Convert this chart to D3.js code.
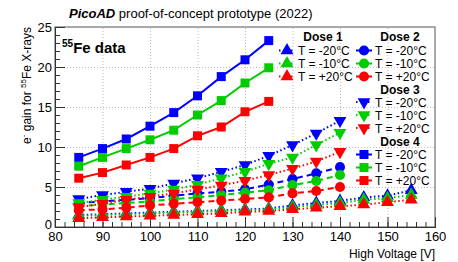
<!DOCTYPE html>
<html>
<head>
<meta charset="utf-8">
<script src="https://cdn.jsdelivr.net/npm/d3@7"></script>
<style>
  body { margin: 0; background: #fff; }
  svg text { font-family: "Liberation Sans", Arial, sans-serif; }
</style>
</head>
<body>
<div id="chart-area"></div>
<script>
// high voltage points
const hvLong = [85, 90, 95, 100, 105, 110, 115, 120, 125, 130, 135, 140, 145, 150, 155]
const hvMid = [85, 90, 95, 100, 105, 110, 115, 120, 125, 130, 135, 140]
const hvShort = [85, 90, 95, 100, 105, 110, 115, 120, 125]

// Dose 1 (triangles up, dotted)
const dose1Minus20 = [1.5, 1.6, 1.7, 1.8, 1.9, 2.0, 2.1, 2.2, 2.3, 2.7, 3.0, 3.25, 3.7, 3.9, 4.6]
const dose1Minus10 = [1.4, 1.5, 1.6, 1.7, 1.8, 1.9, 2.0, 2.1, 2.2, 2.5, 2.75, 3.0, 3.4, 3.6, 4.0]
const dose1Plus20 = [1.1, 1.2, 1.3, 1.4, 1.5, 1.6, 1.7, 1.9, 2.0, 2.2, 2.4, 2.6, 2.8, 3.1, 3.4]
// Dose 2 (circles, dashed)
const dose2Minus20 = [3.0, 3.2, 3.4, 3.6, 3.9, 4.2, 4.4, 4.7, 5.3, 6.0, 6.7, 7.5]
const dose2Minus10 = [2.6, 2.8, 3.0, 3.2, 3.5, 3.7, 4.0, 4.3, 4.6, 5.25, 5.75, 6.5]
const dose2Plus20 = [2.1, 2.2, 2.4, 2.7, 2.9, 3.1, 3.3, 3.5, 3.7, 4.2, 4.5, 5.0]
// Dose 3 (triangles down, dotted)
const dose3Minus20 = [3.5, 4.0, 4.4, 4.8, 5.45, 6.1, 6.9, 7.75, 8.9, 10.25, 11.7, 13.3]
const dose3Minus10 = [3.0, 3.4, 3.8, 4.2, 4.7, 5.3, 6.1, 6.9, 7.9, 8.7, 10.25, 11.8]
const dose3Plus20 = [2.5, 2.9, 3.4, 3.8, 4.2, 4.7, 5.2, 5.8, 6.5, 7.3, 8.2, 9.4]
// Dose 4 (squares, solid)
const dose4Minus20 = [8.7, 9.8, 11.0, 12.6, 14.3, 16.4, 18.8, 20.9, 23.3]
const dose4Minus10 = [7.6, 8.7, 9.8, 10.9, 12.1, 14.0, 15.8, 18.0, 19.9]
const dose4Plus20 = [6.1, 6.8, 7.75, 8.7, 9.8, 11.4, 12.5, 14.4, 15.7]

const tempLabels = ["T = -20°C", "T = -10°C", "T = +20°C"]
const doseLabels = ["Dose 1", "Dose 2", "Dose 3", "Dose 4"]
const COLORS = ["#0000ff", "#00cc00", "#ff0000"]

const WIDTH = 458
const HEIGHT = 262
const MARGIN = { LEFT: 55, RIGHT: 23, TOP: 27, BOTTOM: 35 }
const PW = WIDTH - MARGIN.LEFT - MARGIN.RIGHT
const PH = HEIGHT - MARGIN.TOP - MARGIN.BOTTOM

const svg = d3.select("#chart-area").append("svg")
  .attr("width", WIDTH)
  .attr("height", HEIGHT)

const g = svg.append("g")
  .attr("transform", `translate(${MARGIN.LEFT}, ${MARGIN.TOP})`)

const x = d3.scaleLinear().domain([80, 160]).range([0, PW])
const y = d3.scaleLinear().domain([0, 25]).range([PH, 0])

// grid
const xAxisGrid = d3.axisBottom(x).tickValues([90, 100, 110, 120, 130, 140, 150]).tickSize(-PH).tickFormat("")
const yAxisGrid = d3.axisLeft(y).tickValues([5, 10, 15, 20]).tickSize(-PW).tickFormat("")
g.append("g").attr("class", "grid")
  .attr("transform", `translate(0, ${PH})`)
  .call(xAxisGrid)
g.append("g").attr("class", "grid").call(yAxisGrid)
g.selectAll(".grid .domain").remove()
g.selectAll(".grid line")
  .attr("stroke", "#bdbdbd")
  .attr("stroke-dasharray", "1,2")

// frame
g.append("rect")
  .attr("width", PW).attr("height", PH)
  .attr("fill", "none").attr("stroke", "#555").attr("stroke-width", 1)

// axes (ticks inside like ROOT)
const xMinor = d3.axisBottom(x).ticks(40).tickSize(-5).tickFormat("")
const xMajor = d3.axisBottom(x).ticks(8).tickSize(-10).tickPadding(5)
const yMinor = d3.axisLeft(y).ticks(25).tickSize(-5).tickFormat("")
const yMajor = d3.axisLeft(y).ticks(5).tickSize(-10).tickPadding(3)

g.append("g").attr("transform", `translate(0, ${PH})`).call(xMinor)
g.append("g").attr("class", "x axis").attr("transform", `translate(0, ${PH})`).call(xMajor)
g.append("g").call(yMinor)
g.append("g").attr("class", "y axis").call(yMajor)
g.selectAll(".domain").attr("stroke", "#333")
g.selectAll(".tick line").filter(function () { return !this.closest(".grid") }).attr("stroke", "#333")
g.selectAll(".x.axis text, .y.axis text")
  .attr("font-size", 13)
  .attr("font-family", "Liberation Sans, Arial, sans-serif")
  .attr("fill", "#000")
g.selectAll(".y.axis .tick text").filter(d => d === 0).attr("dy", "0.1em")

// series
const doses = [
  { hv: hvLong, vals: [dose1Minus20, dose1Minus10, dose1Plus20], sym: d3.symbolTriangle, size: 72, rot: 0, dash: "1.5,2.5" },
  { hv: hvMid, vals: [dose2Minus20, dose2Minus10, dose2Plus20], sym: d3.symbolCircle, size: 80, rot: 0, dash: "6,4" },
  { hv: hvMid, vals: [dose3Minus20, dose3Minus10, dose3Plus20], sym: d3.symbolTriangle, size: 72, rot: 180, dash: "1.5,2.5" },
  { hv: hvShort, vals: [dose4Minus20, dose4Minus10, dose4Plus20], sym: d3.symbolSquare, size: 81, rot: 0, dash: null }
]

const line = d3.line().x(d => x(d[0])).y(d => y(d[1]))

doses.forEach(dose => {
  dose.vals.forEach((vals, i) => {
    const pts = dose.hv.map((h, j) => [h, vals[j]])
    g.append("path")
      .datum(pts)
      .attr("fill", "none")
      .attr("stroke", COLORS[i])
      .attr("stroke-width", 2)
      .attr("stroke-dasharray", dose.dash)
      .attr("d", line)
    g.selectAll(null)
      .data(pts)
      .enter().append("path")
      .attr("d", d3.symbol().type(dose.sym).size(dose.size))
      .attr("transform", d => `translate(${x(d[0])}, ${y(d[1])}) rotate(${dose.rot})`)
      .attr("fill", COLORS[i])
  })
})

// legend
const leg = svg.append("g")
function legendEntry(dose, i, mx, ty, lineHalf) {
  leg.append("line")
    .attr("x1", mx - lineHalf).attr("x2", mx + lineHalf)
    .attr("y1", ty).attr("y2", ty)
    .attr("stroke", COLORS[i]).attr("stroke-width", 2)
    .attr("stroke-dasharray", dose.dash)
  leg.append("path")
    .attr("d", d3.symbol().type(dose.sym).size(dose.size))
    .attr("transform", `translate(${mx}, ${ty}) rotate(${dose.rot})`)
    .attr("fill", COLORS[i])
  leg.append("text")
    .attr("x", mx + 11).attr("y", ty + 4.5)
    .attr("font-size", 12)
    .text(tempLabels[i])
}
function legendHeader(label, cx, cy) {
  leg.append("text")
    .attr("x", cx).attr("y", cy + 4.5)
    .attr("text-anchor", "middle")
    .attr("font-size", 12)
    .attr("font-weight", "bold")
    .text(label)
}
legendHeader(doseLabels[0], 323, 36.5)
legendHeader(doseLabels[1], 400, 36.5)
legendHeader(doseLabels[2], 400, 89)
legendHeader(doseLabels[3], 400, 141.5)
const rowsTop = [50.5, 63.5, 76.5]
const rows3 = [102, 115, 128]
const rows4 = [154.5, 167.5, 180.5]
rowsTop.forEach((ry, i) => legendEntry(doses[0], i, 287, ry, 8))
rowsTop.forEach((ry, i) => legendEntry(doses[1], i, 364, ry, 8))
rows3.forEach((ry, i) => legendEntry(doses[2], i, 364, ry, 8))
rows4.forEach((ry, i) => legendEntry(doses[3], i, 364, ry, 8))

// titles
const title = svg.append("text").attr("x", 69).attr("y", 18).attr("font-size", 13)
title.append("tspan").attr("font-weight", "bold").attr("font-style", "italic").text("PicoAD")
title.append("tspan").text(" proof-of-concept prototype (2022)")

const feLabel = svg.append("text").attr("x", 62).attr("y", 53).attr("font-weight", "bold").attr("font-size", 15)
feLabel.append("tspan").attr("font-size", 10).attr("dy", "-6").text("55")
feLabel.append("tspan").attr("dy", "6").text("Fe data")

svg.append("text")
  .attr("x", 435).attr("y", 258)
  .attr("text-anchor", "end")
  .attr("font-size", 12)
  .text("High Voltage [V]")

const yTitle = svg.append("text")
  .attr("transform", "translate(31, 27) rotate(-90)")
  .attr("text-anchor", "end")
  .attr("font-size", 12)
yTitle.append("tspan").text("e")
yTitle.append("tspan").attr("font-size", 8).attr("dy", "-5").text("-")
yTitle.append("tspan").attr("dy", "5").text(" gain for ")
yTitle.append("tspan").attr("font-size", 8).attr("dy", "-5").text("55")
yTitle.append("tspan").attr("dy", "5").text("Fe X-rays")
</script>
</body>
</html>
